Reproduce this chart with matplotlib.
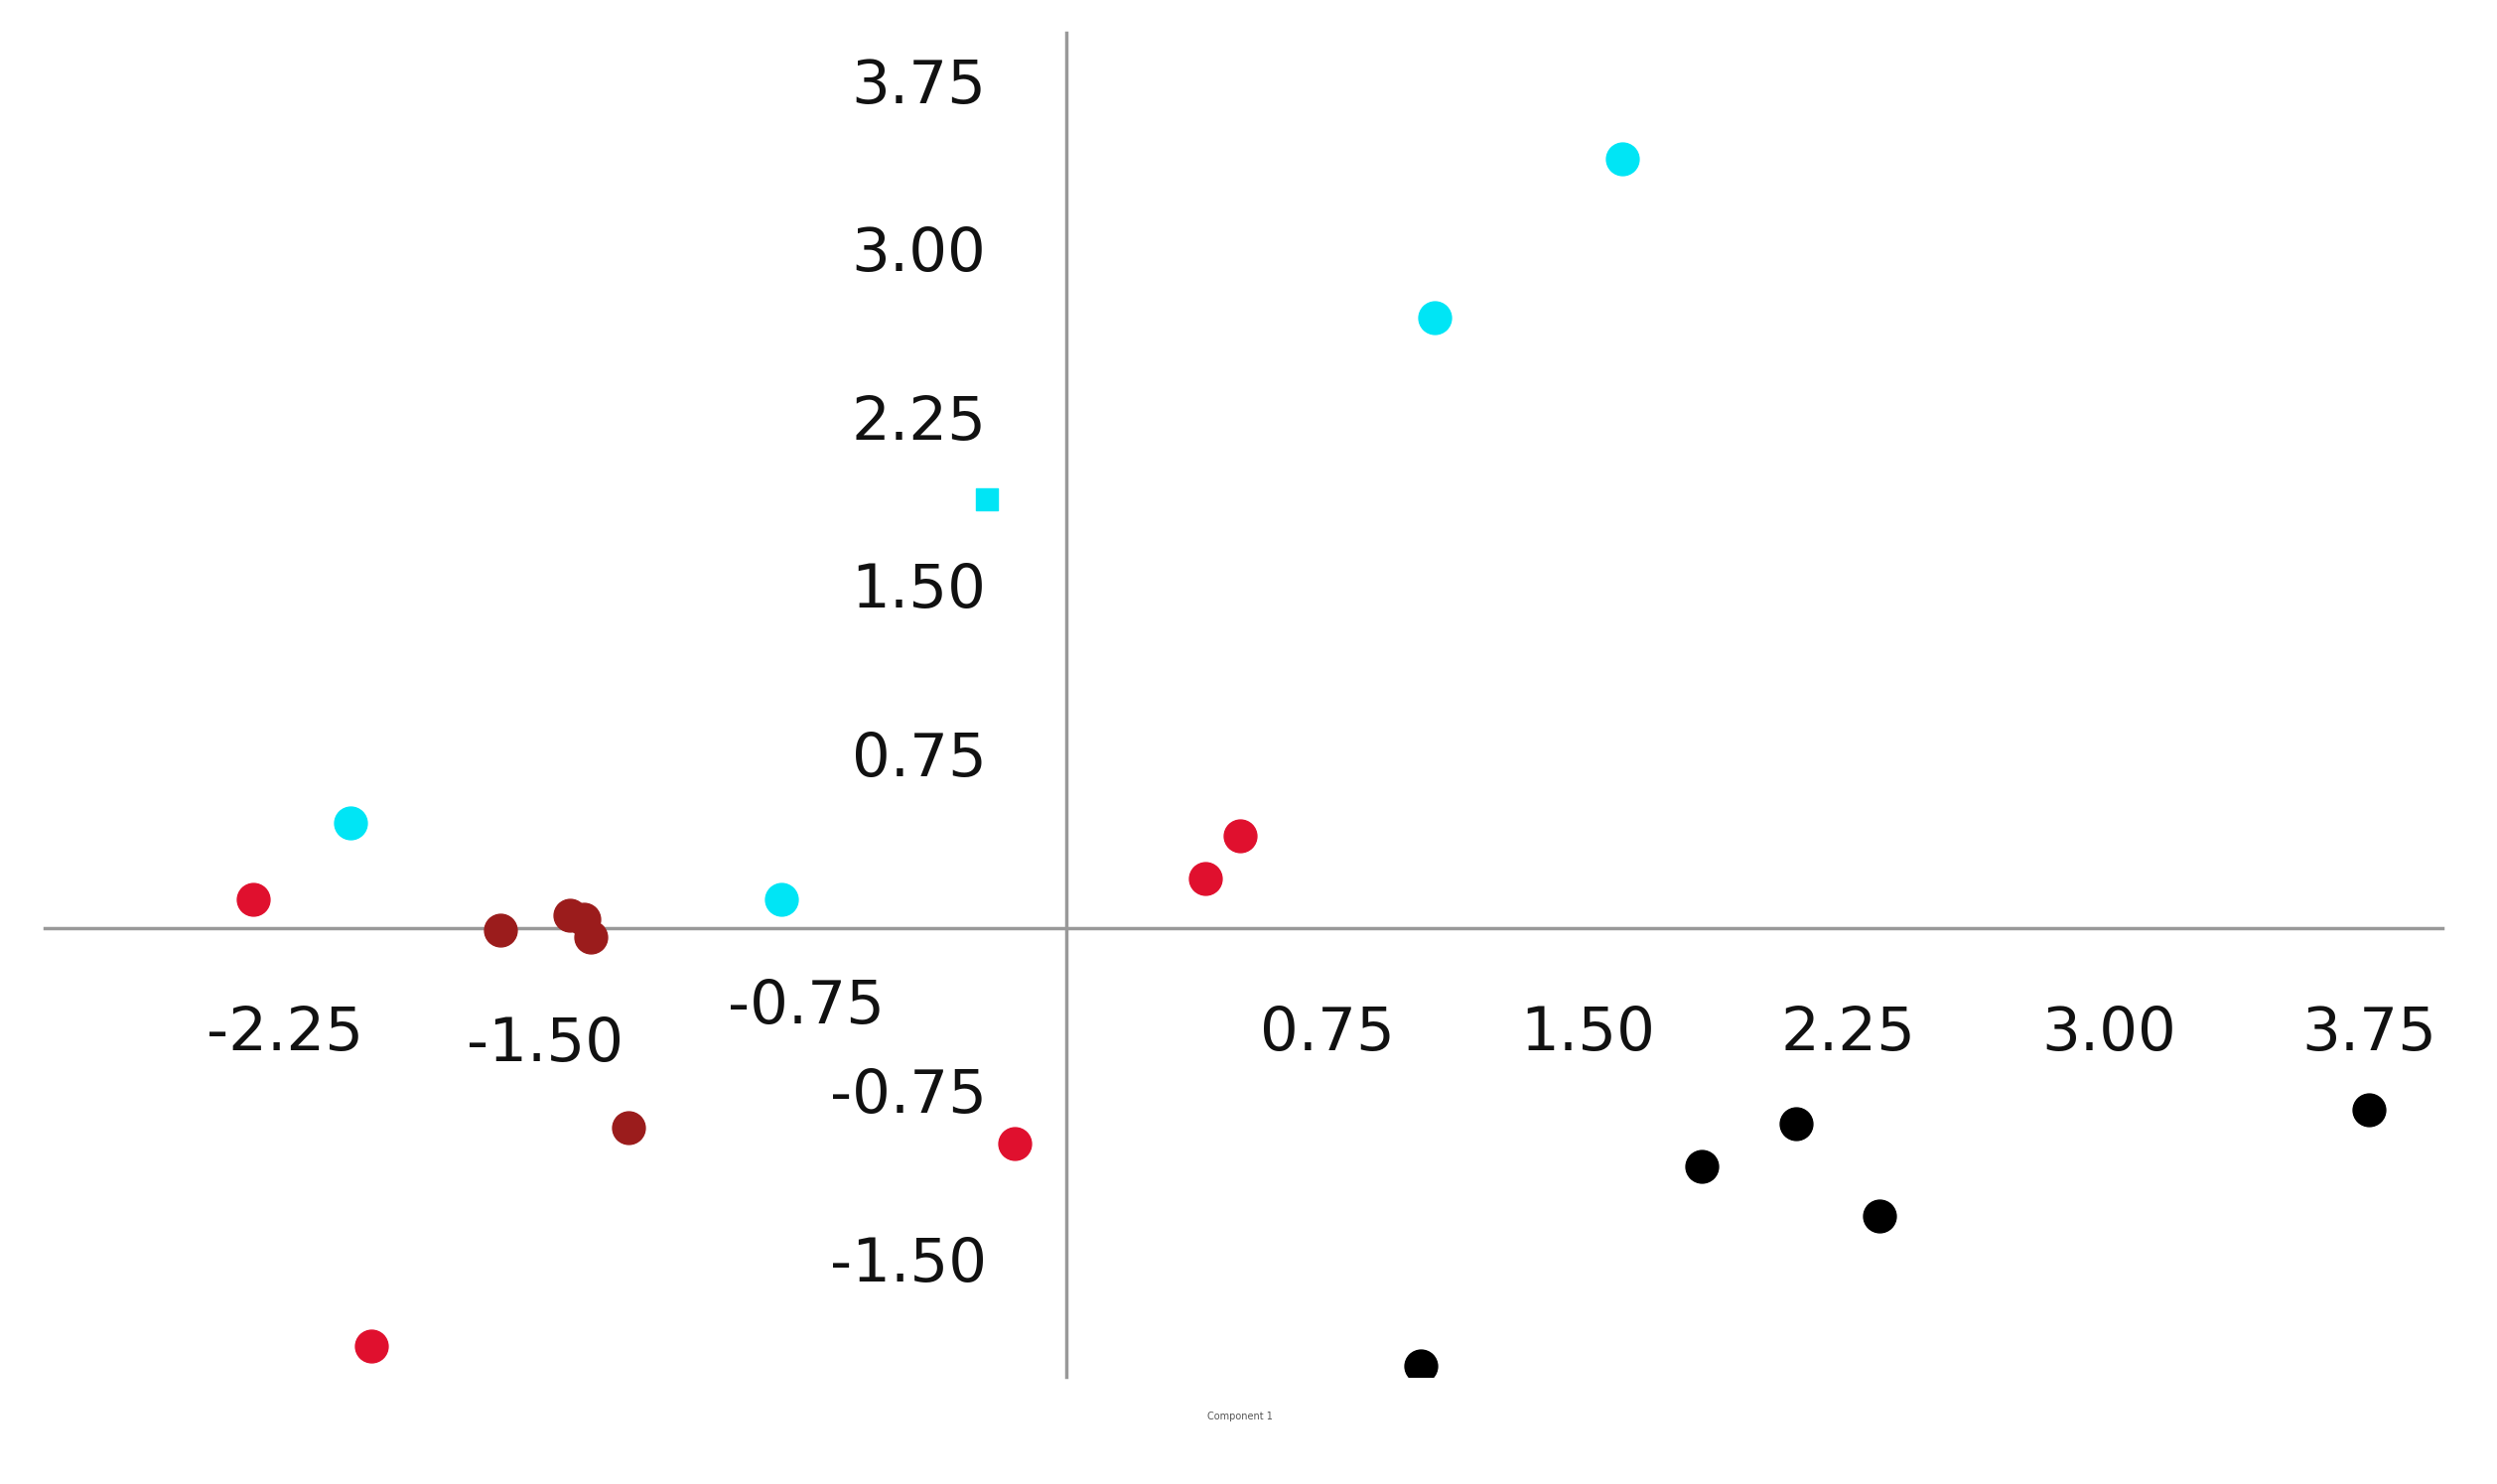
import matplotlib
matplotlib.use("Agg")
import matplotlib.pyplot as plt

cyan_x = [1.60, 1.06, -2.06, -0.82]
cyan_y = [3.43, 2.72, 0.47, 0.13]
sq_x = [-0.23]
sq_y = [1.91]
red_x = [-2.34, 0.40, 0.50, -0.15, -2.00]
red_y = [0.13, 0.22, 0.41, -0.96, -1.86]
dred_x = [-1.63, -1.43, -1.39, -1.37, -1.26]
dred_y = [-0.01, 0.06, 0.04, -0.04, -0.89]
blk_x = [1.02, 1.83, 2.10, 2.34, 3.75]
blk_y = [-1.95, -1.06, -0.87, -1.28, -0.81]

xtick_vals = [-2.25, -1.50, -0.75, 0.75, 1.50, 2.25, 3.00, 3.75]
xtick_labels = ["-2.25", "-1.50", "-0.75", "0.75", "1.50", "2.25", "3.00", "3.75"]
ytick_vals = [3.75, 3.00, 2.25, 1.50, 0.75, -0.75, -1.50]
ytick_labels = ["3.75", "3.00", "2.25", "1.50", "0.75", "-0.75", "-1.50"]

fig = plt.figure(figsize=(25.15, 14.95), dpi=100)
ax = fig.add_axes([0.018, 0.072, 0.96, 0.906])
ax.set_xlim(-2.94, 3.96)
ax.set_ylim(-2.0, 3.99)
for s in ["top", "right"]:
    ax.spines[s].set_visible(False)
ax.spines["left"].set_position(("data", 0))
ax.spines["bottom"].set_position(("data", 0))
for s in ["left", "bottom"]:
    ax.spines[s].set_color("#999999")
    ax.spines[s].set_linewidth(2.5)
ax.set_xticks([]); ax.set_yticks([])

ms = 560
ax.scatter(cyan_x, cyan_y, s=ms, c="#00e5f5", zorder=3)
ax.scatter(sq_x, sq_y, s=260, c="#00e5f5", marker="s", zorder=3)
ax.scatter(red_x, red_y, s=ms, c="#e0102e", zorder=3)
ax.scatter(dred_x, dred_y, s=ms, c="#9b1c1c", zorder=3)
ax.scatter(blk_x, blk_y, s=ms, c="black", zorder=3)

xlab_y = [-0.47, -0.52, -0.35, -0.47, -0.47, -0.47, -0.47, -0.47]
for v, l, yy in zip(xtick_vals, xtick_labels, xlab_y):
    ax.text(v, yy, l, fontsize=44, ha="center", va="center", family="DejaVu Sans", color="#111111")
for v, l in zip(ytick_vals, ytick_labels):
    ax.text(-0.23, v, l, fontsize=44, ha="right", va="center", family="DejaVu Sans", color="#111111")

ax.text(0.5, -2.19, "Component 1", fontsize=7, ha="center", color="#555555")
plt.savefig("out.png", dpi=100)
